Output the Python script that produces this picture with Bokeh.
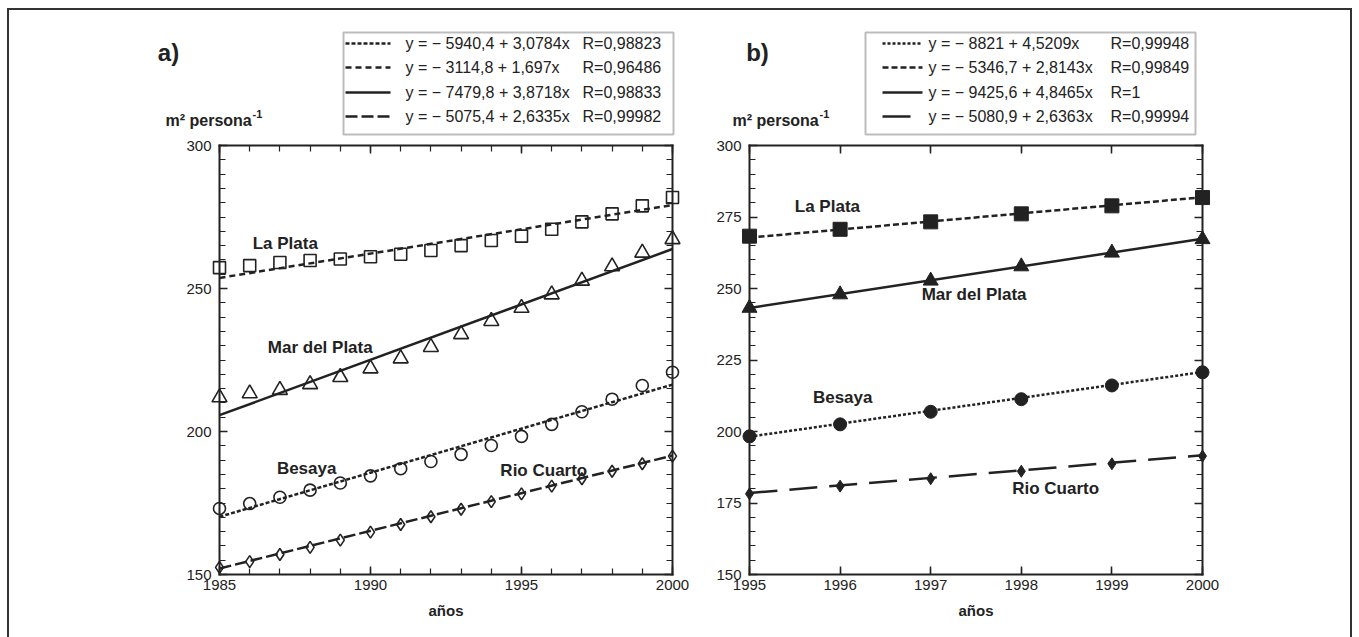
from bokeh.plotting import figure
from bokeh.models import Range1d, LinearAxis, FixedTicker, Label, BoxAnnotation, Arrow
from bokeh.layouts import row
from bokeh.embed import file_html
from bokeh.resources import INLINE

# ---------------- data ----------------
years = [1985, 1986, 1987, 1988, 1989, 1990, 1991, 1992,
         1993, 1994, 1995, 1996, 1997, 1998, 1999, 2000]
la_plata = [257.3, 258.0, 259.1, 259.8, 260.3, 261.1, 262.0, 263.3,
            265.0, 266.8, 268.3, 270.7, 273.3, 276.1, 278.9, 281.8]
mar_del_plata = [211.9, 213.3, 214.5, 216.5, 219.0, 222.0, 225.5, 229.5,
                 234.0, 238.6, 243.2, 247.9, 252.7, 257.7, 262.5, 267.2]
besaya = [173.1, 174.8, 177.0, 179.5, 182.0, 184.5, 187.0, 189.5,
          192.0, 195.1, 198.3, 202.5, 206.9, 211.3, 216.1, 220.7]
rio_cuarto = [152.5, 154.5, 157.0, 159.5, 162.0, 164.8, 167.5, 170.2,
              172.8, 175.5, 178.2, 180.9, 183.5, 186.1, 188.7, 191.4]

# order of legend rows: Besaya, La Plata, Mar del Plata, Rio Cuarto
series_names = ["Besaya", "La Plata", "Mar del Plata", "Rio Cuarto"]

# fitted straight lines: value at the first and at the last year of each panel
fit_a_start = [170.2, 253.7, 205.7, 152.1]   # 1985
fit_a_end = [216.4, 279.2, 263.8, 191.6]     # 2000
fit_b_start = [198.2, 267.8, 243.2, 178.5]   # 1995
fit_b_end = [220.8, 281.9, 267.4, 191.7]     # 2000

eq_a = ["y = \u2212 5940,4 + 3,0784x", "y = \u2212 3114,8 + 1,697x",
        "y = \u2212 7479,8 + 3,8718x", "y = \u2212 5075,4 + 2,6335x"]
r_a = ["R=0,98823", "R=0,96486", "R=0,98833", "R=0,99982"]
eq_b = ["y = \u2212 8821 + 4,5209x", "y = \u2212 5346,7 + 2,8143x",
        "y = \u2212 9425,6 + 4,8465x", "y = \u2212 5080,9 + 2,6363x"]
r_b = ["R=0,99948", "R=0,99849", "R=1", "R=0,99994"]

y_major_a = [150, 200, 250, 300]
y_major_b = [150, 175, 200, 225, 250, 275, 300]
y_minor = [150 + 5 * i for i in range(31)]
x_major_a = [1985, 1990, 1995, 2000]
x_major_b = [1995, 1996, 1997, 1998, 1999, 2000]

# ---------------- style ----------------
INK = "#222222"
FONT = "Liberation Sans"
FIG_H = 627
ORIGIN_Y = 10


def style_axis(ax, show_labels, ticks):
    ax.axis_line_color = INK
    ax.axis_line_width = 2
    ax.axis_line_cap = "square"
    ax.major_tick_in = 8
    ax.major_tick_out = 0
    ax.minor_tick_in = 6
    ax.minor_tick_out = 0
    ax.major_tick_line_color = INK
    ax.minor_tick_line_color = INK
    ax.major_tick_line_width = 1.5
    ax.minor_tick_line_width = 1.2
    ax.major_label_text_font = FONT
    ax.major_label_text_color = INK
    ax.major_label_text_font_size = "15px"
    if not show_labels:
        ax.major_label_overrides = {t: "" for t in ticks}
        ax.major_label_standoff = 0


def build(key, x0, x1, left, right, top, bottom, origin_x, fig_w,
          xs, fits0, fits1, eqs, rs, xmajor, xminor, ymajor, open_markers,
          dashes, legend_box, sample_x, eq_x, r_x, rows_y, tag_pos, unit_x,
          name_pos):
    sx = (right - left) / (x1 - x0)
    sy = (bottom - top) / 150.0
    cl = left - origin_x          # canvas position of x0
    cb = bottom - ORIGIN_Y        # canvas position of y=150
    p = figure(width=fig_w, height=FIG_H,
               x_range=Range1d(x0 - cl / sx, x0 + (fig_w - cl) / sx),
               y_range=Range1d(150 - (FIG_H - cb) / sy, 150 + cb / sy),
               x_axis_location=None, y_axis_location=None,
               min_border=0, toolbar_location=None, output_backend="svg",
               outline_line_color=None, background_fill_color="white",
               border_fill_color="white")
    p.xgrid.visible = False
    p.ygrid.visible = False

    def dx(px):
        return x0 + (px - left) / sx

    def dy(py):
        return 150 + (bottom - py) / sy

    xt = FixedTicker(ticks=xmajor, minor_ticks=xminor)
    yt = FixedTicker(ticks=ymajor, minor_ticks=y_minor)

    bx = LinearAxis(fixed_location=150, bounds=(x0, x1), ticker=xt, axis_label="años")
    style_axis(bx, True, xmajor)
    bx.major_label_standoff = 5
    bx.axis_label_standoff = 9
    bx.axis_label_text_font = FONT
    bx.axis_label_text_font_style = "bold"
    bx.axis_label_text_font_size = "15px"
    bx.axis_label_text_color = INK
    p.add_layout(bx, "below")

    tx = LinearAxis(fixed_location=300, bounds=(x0, x1), ticker=xt)
    style_axis(tx, False, xmajor)
    p.add_layout(tx, "above")

    ly = LinearAxis(fixed_location=x0, bounds=(150, 300), ticker=yt)
    style_axis(ly, True, ymajor)
    ly.major_label_standoff = 8
    p.add_layout(ly, "left")

    ry = LinearAxis(fixed_location=x1, bounds=(150, 300), ticker=yt)
    style_axis(ry, False, ymajor)
    p.add_layout(ry, "right")

    # fitted lines (Besaya, La Plata, Mar del Plata, Rio Cuarto)
    for i in range(4):
        p.line([xs[0], xs[-1]], [fits0[i], fits1[i]], line_color=INK,
               line_width=2.5, line_dash=dashes[i])

    n = len(xs)
    cols = [besaya[-n:], la_plata[-n:], mar_del_plata[-n:], rio_cuarto[-n:]]
    markers = ["circle", "square", "triangle", "diamond"]
    sizes = [12, 12, 15, 12] if open_markers else [13, 14, 15, 12]
    for i in range(4):
        if open_markers:
            p.scatter(xs, cols[i], marker=markers[i], size=sizes[i],
                      fill_color=None, line_color=INK, line_width=1.6)
        else:
            p.scatter(xs, cols[i], marker=markers[i], size=sizes[i],
                      fill_color=INK, line_color=INK, line_width=1)

    # series names
    for i, name in enumerate(series_names):
        nx, ny = name_pos[i]
        p.add_layout(Label(x=nx, y=ny, text=name, text_font=FONT,
                           text_font_size="17px", text_font_style="bold",
                           text_color=INK, text_baseline="middle",
                           text_align="left"))

    # panel tag
    p.add_layout(Label(x=dx(tag_pos[0]), y=dy(tag_pos[1]), text=key,
                       text_font=FONT, text_font_size="24px",
                       text_font_style="bold", text_color=INK,
                       text_align="center", text_baseline="middle"))
    # unit label
    p.add_layout(Label(x=dx(unit_x), y=dy(120), text="m² persona",
                       text_font=FONT, text_font_size="16px",
                       text_font_style="bold", text_color=INK,
                       text_align="left", text_baseline="middle"))
    p.add_layout(Label(x=dx(unit_x + 87), y=dy(113), text="-1",
                       text_font=FONT, text_font_size="11px",
                       text_font_style="bold", text_color=INK,
                       text_align="left", text_baseline="middle"))

    # legend box
    bl, bt, br, bb = legend_box
    p.add_layout(BoxAnnotation(left=dx(bl), right=dx(br), top=dy(bt), bottom=dy(bb),
                               fill_color="white", fill_alpha=1.0,
                               line_color=INK, line_width=2))
    for i in range(4):
        yy = dy(rows_y[i])
        p.add_layout(Arrow(end=None, x_start=dx(sample_x[0]), x_end=dx(sample_x[1]),
                           y_start=yy, y_end=yy, line_color=INK, line_width=2.5,
                           line_dash=dashes[i]))
        p.add_layout(Label(x=dx(eq_x), y=yy, text=eqs[i], text_font=FONT,
                           text_font_size="16px", text_color=INK,
                           text_baseline="middle", text_align="left"))
        p.add_layout(Label(x=dx(r_x), y=yy, text=rs[i], text_font=FONT,
                           text_font_size="16px", text_color=INK,
                           text_baseline="middle", text_align="left"))
    return p


pa = build("a)", 1985, 2000, 219, 672, 145, 574, 9, 680,
           years, fit_a_start, fit_a_end, eq_a, r_a, x_major_a, years, y_major_a,
           True, ["4 2", "6 4", "solid", "12 4"],
           (343, 32, 673, 134), (345, 390), 405, 582, [43, 67, 92, 116],
           (168, 52), 165,
           [(1986.9, 187.1), (1986.1, 265.7), (1986.6, 229.4), (1994.3, 186.5)])

pb = build("b)", 1995, 2000, 749, 1202, 145, 574, 689, 661,
           years[-6:], fit_b_start, fit_b_end, eq_b, r_b, x_major_b, x_major_b, y_major_b,
           False, ["3 2", "6 3", "solid", "28 12"],
           (865, 32, 1195, 134), (882, 922), 928, 1110, [43, 67, 92, 116],
           (757, 52), 732,
           [(1995.7, 212.0), (1995.5, 278.5), (1996.9, 248.0), (1997.9, 180.0)])

layout = row(pa, pb, margin=(8, 0, 0, 7),
             styles={"border-top": "2px solid #333333",
                     "border-left": "2px solid #333333",
                     "border-right": "2px solid #333333"})

open("out.html", "w").write(file_html(layout, INLINE))
